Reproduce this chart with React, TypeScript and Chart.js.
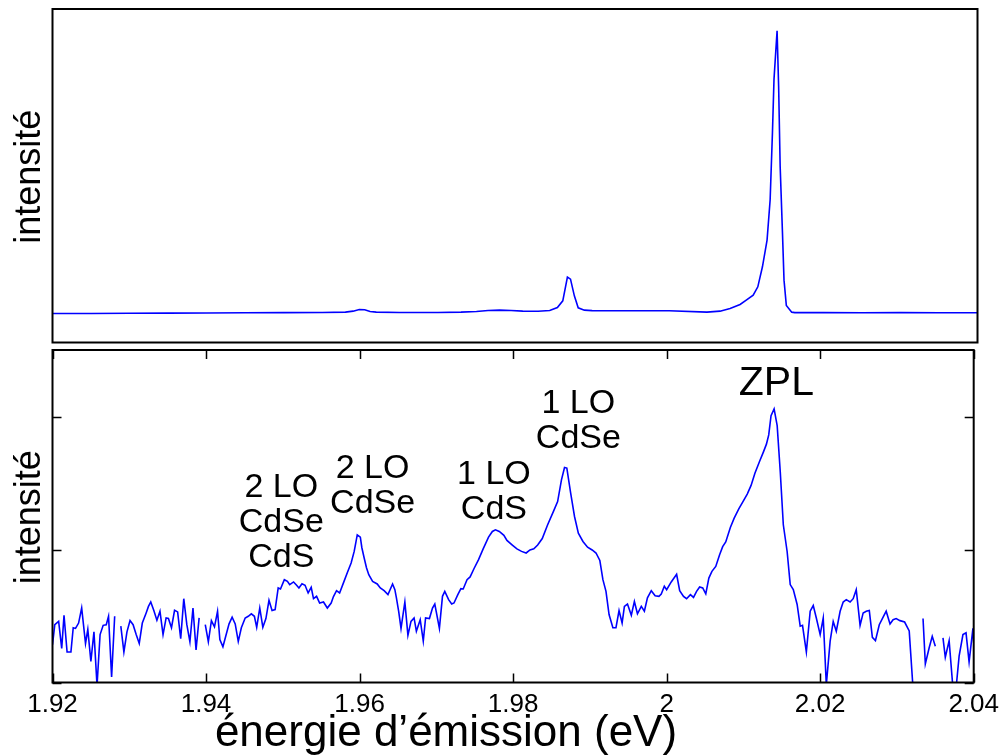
import React, { useEffect, useRef } from "react";
import { Chart, registerables } from "chart.js";

Chart.register(...registerables);

// ---------- data ----------
// top panel (linear intensity, arbitrary units)
const topEnergy = [
  1.92, 1.925, 1.93, 1.935, 1.94, 1.945, 1.95, 1.955, 1.958, 1.959, 1.9598, 1.9605, 1.9612, 1.962,
  1.965, 1.97, 1.973, 1.975, 1.9765, 1.978, 1.9795, 1.981, 1.983, 1.9845, 1.9855, 1.9862, 1.9868,
  1.9872, 1.9877, 1.9882, 1.989, 1.99, 1.995, 2.0, 2.0049, 2.0066, 2.0079, 2.0092, 2.01, 2.0109,
  2.0115, 2.0121, 2.0127, 2.0131, 2.0134, 2.0136, 2.014, 2.0142, 2.0144, 2.0147, 2.0149, 2.0152,
  2.0159, 2.0163, 2.02, 2.025, 2.03, 2.035, 2.04,
];
const topIntensity = [
  8.7, 8.7, 8.75, 8.8, 8.85, 8.9, 8.95, 9.0, 9.1, 9.4, 9.9, 9.8, 9.3, 9.1,
  9.0, 9.0, 9.1, 9.3, 9.6, 9.7, 9.6, 9.4, 9.35, 9.6, 10.5, 12.5, 19.6,
  19.0, 14.0, 10.4, 9.7, 9.55, 9.5, 9.5, 9.1, 9.4, 10.2, 11.4, 12.7, 14.2,
  16.7, 22.7, 30.7, 42.8, 63.0, 78.9, 93.5, 76.9, 52.8, 32.8, 18.7, 11.1,
  9.1, 8.95, 8.95, 8.9, 8.95, 8.9, 8.9,
];

// bottom panel (log intensity); null = no signal (gap)
const bottomEnergy = [
  1.92, 1.9203, 1.9208, 1.9212, 1.9215, 1.9219, 1.9224, 1.9227, 1.923, 1.9234, 1.9238, 1.9243, 1.9246,
  1.925, 1.9254, 1.9258, 1.9262, 1.9266, 1.927, 1.9273, 1.9277, 1.9281, 1.9285, 1.9289, 1.9293, 1.9297,
  1.9301, 1.9305, 1.9309, 1.9313, 1.9317, 1.9322, 1.9325, 1.9328, 1.9332, 1.9336, 1.934, 1.9344, 1.9348,
  1.9351, 1.9355, 1.9359, 1.9363, 1.9367, 1.9371, 1.9375, 1.9379, 1.9383, 1.9387, 1.9391, 1.9395, 1.9399,
  1.9403, 1.9407, 1.9411, 1.9415, 1.9418, 1.9422, 1.9426, 1.943, 1.9434, 1.9438, 1.9442, 1.9446, 1.9451,
  1.9455, 1.9459, 1.9463, 1.9466, 1.947, 1.9474, 1.9478, 1.9482, 1.9486, 1.949, 1.9494, 1.9497, 1.9502,
  1.9506, 1.9509, 1.9514, 1.9518, 1.9521, 1.9525, 1.9529, 1.9533, 1.9537, 1.954, 1.9544, 1.9548, 1.9553,
  1.9558, 1.9563, 1.9566, 1.957, 1.9574, 1.9579, 1.9584, 1.9589, 1.9593, 1.9597, 1.9601, 1.9603, 1.9606,
  1.9609, 1.9612, 1.9617, 1.9623, 1.9627, 1.9632, 1.9637, 1.9643, 1.9646, 1.9648, 1.9651, 1.9654, 1.9659,
  1.9663, 1.9667, 1.9671, 1.9674, 1.9679, 1.9683, 1.9686, 1.9691, 1.9695, 1.9698, 1.9704, 1.9708, 1.9711,
  1.9716, 1.972, 1.9723, 1.9728, 1.9732, 1.9735, 1.974, 1.9744, 1.9749, 1.9755, 1.9761, 1.9768, 1.9773,
  1.9777, 1.9782, 1.9788, 1.9792, 1.9799, 1.9805, 1.9811, 1.9817, 1.9822, 1.9827, 1.9832, 1.9838, 1.9845,
  1.9853, 1.9858, 1.9863, 1.9867, 1.987, 1.9875, 1.988, 1.9885, 1.9891, 1.9897, 1.9903, 1.9908, 1.9913,
  1.9917, 1.9921, 1.9925, 1.993, 1.9934, 1.9938, 1.9942, 1.9945, 1.9949, 1.9954, 1.9958, 1.9962, 1.9967,
  1.9971, 1.9975, 1.998, 1.9985, 1.999, 1.9993, 1.9997, 2.0, 2.0006, 2.0013, 2.0017, 2.0022, 2.0026,
  2.0031, 2.0035, 2.0039, 2.0043, 2.0047, 2.0051, 2.0055, 2.0059, 2.0064, 2.0069, 2.0073, 2.0077, 2.0083,
  2.0088, 2.0094, 2.01, 2.0105, 2.011, 2.0115, 2.0121, 2.0126, 2.013, 2.0133, 2.0136, 2.014, 2.0144,
  2.0148, 2.0152, 2.0157, 2.0161, 2.0165, 2.017, 2.0174, 2.0177, 2.0182, 2.0187, 2.0191, 2.0195, 2.02,
  2.0204, 2.0208, 2.0213, 2.0217, 2.0221, 2.0226, 2.023, 2.0234, 2.0239, 2.0243, 2.0247, 2.0252, 2.0256,
  2.026, 2.0264, 2.0268, 2.0272, 2.0277, 2.0282, 2.0286, 2.0291, 2.0295, 2.0299, 2.0304, 2.031, 2.0316,
  2.0321, 2.0327, 2.0334, 2.0337, 2.0342, 2.0346, 2.035, 2.0355, 2.036, 2.0363, 2.0368, 2.0373, 2.0377,
  2.0381, 2.0386, 2.039, 2.0394, 2.0399, 2.04,
];
const bottomIntensity = [
  1.93, 2.73, 2.89, 1.81, 3.22, 1.7, 1.7, 2.59, 2.56, 2.81, 3.65, 1.97, 2.51,
  1.44, 2.41, 0.95, 2.3, 2.7, 2.73, 3.16, 1.1, 3.16, null, 2.66, 1.7, 2.41,
  2.93, 2.73, 2.3, 1.97, 2.81, 3.35, 3.75, 4.05, 3.49, 2.95, 3.45, 2.3, 3.07,
  3.04, 2.59, 3.51, 3.41, 2.14, 4.29, 2.73, 2.03, 3.65, 1.76, 3.07, null, 2.73,
  2.03, 2.93, 2.63, 3.45, 2.11, 1.86, 2.27, 2.77, 3.11, 2.77, 2.04, 2.59, 3.07,
  3.16, 3.3, 3.16, 2.61, 3.65, 2.61, 3.04, 4.17, 3.49, 3.55, 5.17, 5.08, 5.97,
  5.8, 5.48, 5.74, 5.42, 5.17, 5.57, 5.42, 4.74, 5.23, 4.29, 4.47, 3.98, 4.05,
  3.65, 3.98, 4.45, 4.93, 4.74, 5.65, 6.74, 7.98, 9.76, 13.0, 12.5, 10.4, 8.7,
  7.35, 6.51, 5.8, 5.54, 5.17, 4.93, 4.6, 5.54, 5.02, 4.35, 3.43, 2.56, 4.05,
  2.27, 2.89, 3.07, 2.44, 2.98, 2.05, 3.07, 3.04, 3.65, 3.91, 2.56, 4.47, 4.87,
  4.22, 3.91, 3.98, 4.6, 5.11, 5.08, 5.97, 6.26, 7.22, 8.45, 10.2, 12.5, 13.8,
  14.2, 13.8, 12.9, 11.8, 10.9, 10.2, 9.76, 9.49, 10.0, 10.2, 10.9, 12.2, 15.5,
  19.8, 23.2, 33.8, 41.9, 41.5, 26.9, 17.9, 13.4, 11.6, 10.5, 10.0, 9.49, 8.33,
  5.97, 4.87, 3.26, 2.59, 2.59, 3.49, 2.81, 3.75, 3.91, 3.22, 4.09, 3.3, 3.75,
  3.45, 4.35, 4.93, 4.52, 4.47, 4.65, 5.32, 5.02, 5.74, 6.56, 4.93, 4.47, 4.29,
  4.6, 4.39, 4.87, 5.26, 5.17, 4.67, 6.14, 6.9, 7.52, 9.22, 10.6, 11.5, 14.8,
  17.4, 20.4, 23.5, 26.4, 30.7, 38.0, 46.5, 54.8, 62.9, 73.9, 103, 116, 86.8,
  39.1, 15.5, 9.7, 5.48, 5.02, 3.88, 2.66, 2.7, 1.7, 3.45, 3.81, 3.07, 2.3,
  3.07, 0.96, 2.05, 2.89, 2.44, 3.45, 4.05, 4.22, 4.05, 4.29, 5.02, 2.7, 3.35,
  3.45, 3.49, 2.19, 2.07, 2.73, 3.11, 3.45, 2.77, 2.98, 3.04, 2.93, 2.86, 2.45,
  0.9, null, 3.04, 1.38, 1.83, 2.23, 1.88, null, 2.17, 1.55, 2.07, 0.9, 0.9,
  1.58, 2.3, 2.37, 1.43, 2.56, 2.0,
];

const xTicks = [1.92, 1.94, 1.96, 1.98, 2.0, 2.02, 2.04];
const xTickLabels = ["1.92", "1.94", "1.96", "1.98", "2", "2.02", "2.04"];
const yLogTicks = [1, 10, 100];

const yTitle = "intensité";
const xTitle = "énergie d’émission (eV)";

// annotation labels: lines, anchor energy (centre), anchor intensity (baseline of last line)
const annoLines = [["2 LO", "CdSe", "CdS"], ["2 LO", "CdSe"], ["1 LO", "CdS"], ["1 LO", "CdSe"], ["ZPL"]];
const annoEnergy = [1.9498, 1.9617, 1.9775, 1.9885, 2.0143];
const annoIntensity = [7.4, 18.9, 17.1, 58.6, 148];
const annoSize = [34, 34, 34, 34, 41];

// ---------- styles ----------
const FONT = '"Liberation Sans", Arial, Helvetica, sans-serif';
const W = 1006;
const TOP_H = 346;
const BOT_H = 410;

const framePlugin = (withTicks: boolean) => ({
  id: "frame" + (withTicks ? "T" : ""),
  afterDatasetsDraw(chart: any) {
    const { ctx, chartArea: a } = chart;
    ctx.save();
    ctx.strokeStyle = "#000";
    ctx.lineWidth = 2;
    ctx.strokeRect(a.left, a.top, a.right - a.left, a.bottom - a.top);
    if (withTicks) {
      const xs = chart.scales.x;
      const ys = chart.scales.y;
      ctx.lineWidth = 1.5;
      ctx.beginPath();
      for (const t of xTicks) {
        const px = Math.round(xs.getPixelForValue(t)) + 0.5;
        ctx.moveTo(px, a.bottom);
        ctx.lineTo(px, a.bottom - 9);
        ctx.moveTo(px, a.top);
        ctx.lineTo(px, a.top + 9);
      }
      for (const t of yLogTicks) {
        const py = Math.round(ys.getPixelForValue(t)) + 0.5;
        ctx.moveTo(a.left, py);
        ctx.lineTo(a.left + 9, py);
        ctx.moveTo(a.right, py);
        ctx.lineTo(a.right - 9, py);
      }
      ctx.stroke();
    }
    ctx.restore();
  },
});

const yTitlePlugin = {
  id: "ytitle",
  afterDraw(chart: any) {
    const { ctx, chartArea: a } = chart;
    ctx.save();
    ctx.fillStyle = "#000";
    ctx.font = `36px ${FONT}`;
    ctx.textAlign = "center";
    ctx.textBaseline = "middle";
    ctx.translate(30, (a.top + a.bottom) / 2 + 1);
    ctx.rotate(-Math.PI / 2);
    ctx.fillText(yTitle, 0, 0);
    ctx.restore();
  },
};

const bottomTextPlugin = {
  id: "btext",
  afterDraw(chart: any) {
    const { ctx } = chart;
    const xs = chart.scales.x;
    const ys = chart.scales.y;
    ctx.save();
    ctx.fillStyle = "#000";
    ctx.textAlign = "center";
    ctx.textBaseline = "alphabetic";
    annoLines.forEach((lines, i) => {
      ctx.font = `${annoSize[i]}px ${FONT}`;
      const cx = xs.getPixelForValue(annoEnergy[i]);
      const by = ys.getPixelForValue(annoIntensity[i]);
      const n = lines.length;
      lines.forEach((ln, j) => {
        ctx.fillText(ln, cx, by - (n - 1 - j) * 35);
      });
    });
    ctx.font = `44px ${FONT}`;
    ctx.fillText(xTitle, 446, 400);
    ctx.restore();
  },
};

export default function App() {
  const topRef = useRef<HTMLCanvasElement>(null);
  const botRef = useRef<HTMLCanvasElement>(null);

  useEffect(() => {
    const topData = topEnergy.map((x, i) => ({ x, y: topIntensity[i] }));
    const botData = bottomEnergy.map((x, i) => ({ x, y: bottomIntensity[i] }));

    const top = new Chart(topRef.current as HTMLCanvasElement, {
      type: "line",
      data: {
        datasets: [
          {
            data: topData as any,
            borderColor: "#0000ff",
            borderWidth: 1.6,
            pointRadius: 0,
            tension: 0,
            fill: false,
          },
        ],
      },
      options: {
        responsive: false,
        animation: false,
        devicePixelRatio: 1,
        layout: { padding: { left: 52.5, right: 28.5, top: 9, bottom: TOP_H - 342.5 } },
        plugins: { legend: { display: false }, tooltip: { enabled: false } },
        scales: {
          x: { type: "linear", min: 1.92, max: 2.04, display: false },
          y: { type: "linear", min: 0, max: 100, display: false },
        },
      },
      plugins: [framePlugin(false), yTitlePlugin],
    });

    const bot = new Chart(botRef.current as HTMLCanvasElement, {
      type: "line",
      data: {
        datasets: [
          {
            data: botData as any,
            borderColor: "#0000ff",
            borderWidth: 1.6,
            pointRadius: 0,
            tension: 0,
            fill: false,
            spanGaps: false,
          },
        ],
      },
      options: {
        responsive: false,
        animation: false,
        devicePixelRatio: 1,
        layout: { padding: { left: 52.5, right: 28.5, top: 350 - TOP_H, bottom: 0 } },
        plugins: { legend: { display: false }, tooltip: { enabled: false } },
        scales: {
          x: {
            type: "linear",
            min: 1.92,
            max: 2.04,
            afterBuildTicks: (s: any) => {
              s.ticks = xTicks.map((v) => ({ value: v }));
            },
            afterFit: (s: any) => {
              s.height = BOT_H - (682.5 - TOP_H);
            },
            ticks: {
              autoSkip: false,
              maxRotation: 0,
              padding: 7,
              color: "#000",
              font: { family: FONT, size: 26 },
              callback: (_v: any, i: number) => xTickLabels[i],
            },
            grid: { display: false, drawTicks: false },
            border: { display: false },
          },
          y: { type: "logarithmic", min: 1, max: 323, display: false },
        },
      },
      plugins: [framePlugin(true), yTitlePlugin, bottomTextPlugin],
    });

    return () => {
      top.destroy();
      bot.destroy();
    };
  }, []);

  return (
    <div style={{ position: "fixed", left: 0, top: 0, width: W, height: TOP_H + BOT_H, background: "#fff" }}>
      <canvas ref={topRef} width={W} height={TOP_H} style={{ position: "absolute", left: 0, top: 0 }} />
      <canvas ref={botRef} width={W} height={BOT_H} style={{ position: "absolute", left: 0, top: TOP_H }} />
    </div>
  );
}
